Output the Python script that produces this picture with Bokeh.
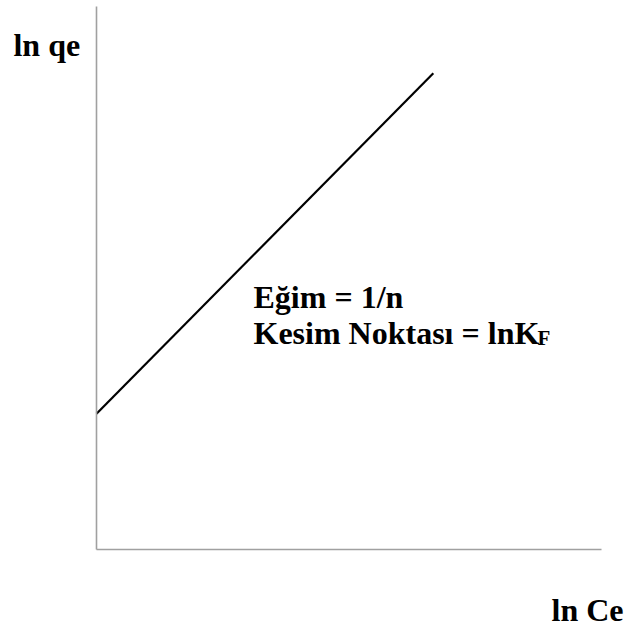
from bokeh.plotting import figure
from bokeh.models import Label, Range1d, LinearAxis, FixedTicker
from bokeh.embed import file_html
from bokeh.resources import INLINE

# Data (schematic Freundlich isotherm, linearised)
ln_Ce = [0.0, 6.67]
ln_qe = [2.50, 8.77]

x_label = "ln Ce"
y_label = "ln qe"
slope_text = "Eğim = 1/n"
intercept_text = "Kesim Noktası = lnK"
intercept_sub = "F"

FONT = "Liberation Serif"
W, H = 626, 624

p = figure(width=W, height=H, output_backend="svg", toolbar_location=None,
           x_range=Range1d(-1.901, 10.495), y_range=Range1d(-1.381, 10.110),
           x_axis_location=None, y_axis_location=None,
           min_border_left=0, min_border_right=0, min_border_top=0, min_border_bottom=0)
p.outline_line_color = None
p.grid.visible = False
p.background_fill_color = "white"
p.border_fill_color = "white"

def make_axis():
    ax = LinearAxis(fixed_location=0, bounds=(0, 10), ticker=FixedTicker(ticks=[]),
                    major_tick_line_color=None, minor_tick_line_color=None,
                    major_tick_in=0, major_tick_out=0, minor_tick_in=0, minor_tick_out=0,
                    major_label_standoff=0,
                    axis_line_color="#a0a0a0", axis_line_width=1.6)
    return ax

p.add_layout(make_axis(), "below")
p.add_layout(make_axis(), "left")

p.line(ln_Ce, ln_qe, line_color="black", line_width=2.2)

def lab(x, y, text, size="32px"):
    p.add_layout(Label(x=x, y=y, text=text,
                       text_font=FONT, text_font_style="bold", text_font_size=size,
                       text_color="black", text_baseline="alphabetic", text_align="left"))

lab(-1.644, 9.282, y_label)
lab(9.010, -1.105, x_label)
lab(3.109, 4.641, slope_text)
lab(3.109, 3.996, intercept_text)
lab(8.733, 3.904, intercept_sub, size="21px")

open("out.html", "w").write(file_html(p, INLINE))
